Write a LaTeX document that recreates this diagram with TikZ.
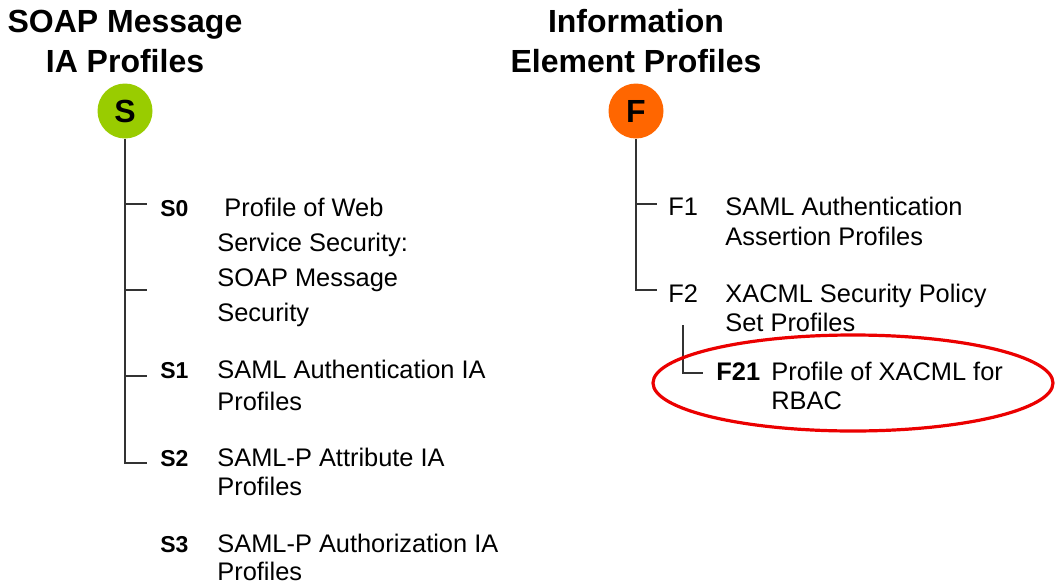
\documentclass[tikz,border=0pt]{standalone}
\usepackage{fontspec}
\setmainfont{Liberation Sans}
\usetikzlibrary{positioning}
\definecolor{sgreen}{RGB}{153,204,0}
\definecolor{forange}{RGB}{255,102,0}
\definecolor{ringred}{RGB}{235,0,0}
\newcommand{\itemfont}{\fontsize{12.7}{15}\selectfont}
\tikzset{
  ttl/.style={inner sep=0pt, align=center, font=\fontsize{16}{20}\selectfont\bfseries},
  root/.style={circle, inner sep=0pt, minimum size=27.5pt, font=\fontsize{16}{16}\selectfont\bfseries},
  lbl/.style={anchor=base west, inner sep=0pt, font=\itemfont},
  slbl/.style={lbl, font=\fontsize{11.5}{13}\selectfont\bfseries},
  desc/.style={anchor=north west, inner sep=0pt, yshift=9.2pt, align=left, font=\itemfont},
  branch/.style={draw=black!80, line width=0.6pt},
  ring/.style={draw=ringred, line width=1.6pt}
}

\begin{document}
\begin{tikzpicture}[x=0.5pt, y=-0.5pt]
\useasboundingbox (0,0) rectangle (1055,584);
\node[root, fill=sgreen] (s) at (125,111) {S};
\node[ttl, above=5pt of s] (stitle) {SOAP Message\\IA Profiles};
\node[root, fill=forange] (f) at (636,111) {F};
\node[ttl, above=5pt of f] (ftitle) {Information\\Element Profiles};

\coordinate (scol) at (217,0);
\coordinate (fcol) at (725,0);
\coordinate (gcol) at (771,0);

% SOAP message profiles
\node[slbl] (s0) at (160,216) {S0};
\node[desc, font=\fontsize{12.7}{17.5}\selectfont] (s0t) at (s0.base -| scol) {\hspace*{3.5pt}Profile of Web\\Service Security:\\SOAP Message\\Security};
\node[slbl] (s1) at (160,378) {S1};
\node[desc, font=\fontsize{12.7}{16}\selectfont] (s1t) at (s1.base -| scol) {SAML Authentication IA\\Profiles};
\node[slbl] (s2) at (160,466) {S2};
\node[desc, font=\fontsize{12.7}{14.5}\selectfont] (s2t) at (s2.base -| scol) {SAML-P Attribute IA\\Profiles};
\node[slbl] (s3) at (160,552) {S3};
\node[desc, font=\fontsize{12.7}{14}\selectfont] (s3t) at (s3.base -| scol) {SAML-P Authorization IA\\Profiles};

% information element profiles
\node[lbl] (f1) at (668,215) {F1};
\node[desc] (f1t) at (f1.base -| fcol) {SAML Authentication\\Assertion Profiles};
\node[lbl] (f2) at (668,302) {F2};
\node[desc, font=\fontsize{12.7}{14.3}\selectfont] (f2t) at (f2.base -| fcol) {XACML Security Policy\\Set Profiles};
\node[lbl, font=\itemfont\bfseries] (f21) at (716,380) {F21};
\node[desc, font=\fontsize{12.7}{14.5}\selectfont] (f21t) at (f21.base -| gcol) {Profile of XACML for\\RBAC};

% tree lines
\coordinate (sk0) at (147,204);
\coordinate (sk1) at (147,290);
\coordinate (sk2) at (147,376);
\coordinate (sk3) at (147,463);
\draw[branch] (s) |- (sk3);
\foreach \k in {sk0,sk1,sk2} \draw[branch] (s |- \k) -- (\k);

\coordinate (fk1) at (657,204);
\coordinate (fk2) at (657,290);
\draw[branch] (f) |- (fk2);
\draw[branch] (f |- fk1) -- (fk1);
\coordinate (gk0) at (683,325);
\coordinate (gk1) at (703,373);
\draw[branch] (gk0) |- (gk1);

\draw[ring] (853,383) ellipse [x radius=100pt, y radius=24pt];
\end{tikzpicture}
\end{document}
